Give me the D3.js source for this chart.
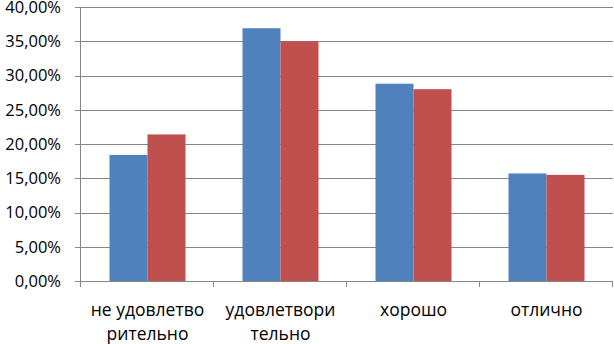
<!DOCTYPE html>
<html><head><meta charset="UTF-8">
<style>
body { margin: 0; background: #fff; }
text { font-family: "Open Sans", sans-serif; fill: #000; }
</style>
</head>
<body>
<svg width="614" height="344"></svg>
<script src="https://cdn.jsdelivr.net/npm/d3@7"></script>
<script>

var categories = [["не удовлетво", "рительно"], ["удовлетвори", "тельно"], ["хорошо"], ["отлично"]];
var seriesA = [18.4, 36.9, 28.8, 15.7];
var seriesB = [21.4, 35.0, 28.0, 15.5];
var yTicks = [0, 5, 10, 15, 20, 25, 30, 35, 40];
var colors = ["#4f81bd", "#c0504d"];

var svg = d3.select("svg"),
    margin = {top: 7, right: 1, bottom: 63, left: 81},
    width = 614 - margin.left - margin.right,
    height = 344 - margin.top - margin.bottom,
    g = svg.append("g").attr("transform", "translate(" + margin.left + "," + margin.top + ")");

var x = d3.scaleBand().domain(d3.range(categories.length)).range([0, width]).paddingInner(0).paddingOuter(0);
var y = d3.scaleLinear().domain([0, 40]).range([height, 0]);
var barW = 38;

// gridlines
g.append("g").selectAll("line")
    .data(yTicks.slice(1))
  .enter().append("line")
    .attr("x1", 0).attr("x2", width)
    .attr("y1", function(d) { return Math.round(y(d)) + 0.5; })
    .attr("y2", function(d) { return Math.round(y(d)) + 0.5; })
    .attr("stroke", "#868686").attr("stroke-width", 1);

// bars
var grp = g.selectAll(".grp")
    .data(categories.map(function(c, i) { return {i: i, v: [seriesA[i], seriesB[i]]}; }))
  .enter().append("g")
    .attr("class", "grp");

grp.selectAll("rect")
    .data(function(d) { return d.v.map(function(v, k) { return {i: d.i, k: k, v: v}; }); })
  .enter().append("rect")
    .attr("x", function(d) { return x(d.i) + x.bandwidth() / 2 - barW + d.k * barW; })
    .attr("y", function(d) { return y(d.v); })
    .attr("width", barW)
    .attr("height", function(d) { return height - y(d.v); })
    .attr("fill", function(d) { return colors[d.k]; });

// y axis
g.append("line")
    .attr("x1", -0.5).attr("x2", -0.5).attr("y1", 0).attr("y2", height)
    .attr("stroke", "#868686");
g.append("g").selectAll("line")
    .data(yTicks)
  .enter().append("line")
    .attr("x1", -6).attr("x2", 0)
    .attr("y1", function(d) { return Math.round(y(d)) + 0.5; })
    .attr("y2", function(d) { return Math.round(y(d)) + 0.5; })
    .attr("stroke", "#868686");
g.append("g").selectAll("text")
    .data(yTicks)
  .enter().append("text")
    .attr("x", -20)
    .attr("y", function(d) { return y(d); })
    .attr("dy", "0.36em")
    .attr("text-anchor", "end")
    .style("font-size", "16.5px")
    .text(function(d) { return d3.format(".2f")(d).replace(".", ",") + "%"; });

// x axis
g.append("line")
    .attr("x1", 0).attr("x2", width)
    .attr("y1", height + 0.5).attr("y2", height + 0.5)
    .attr("stroke", "#868686");
g.append("g").selectAll("line")
    .data(d3.range(categories.length + 1))
  .enter().append("line")
    .attr("x1", function(d) { return Math.round(d * x.bandwidth()) - 0.5; })
    .attr("x2", function(d) { return Math.round(d * x.bandwidth()) - 0.5; })
    .attr("y1", height).attr("y2", height + 6)
    .attr("stroke", "#868686");

var lab = g.append("g").selectAll("text")
    .data(categories)
  .enter().append("text")
    .attr("text-anchor", "middle")
    .style("font-size", "17.5px")
    .attr("transform", function(d, i) { return "translate(" + (x(i) + x.bandwidth() / 2) + "," + (height + 35) + ")"; });
lab.selectAll("tspan")
    .data(function(d) { return d; })
  .enter().append("tspan")
    .attr("x", 0)
    .attr("y", function(d, j) { return j * 24; })
    .text(function(d) { return d; });

</script>
</body></html>
